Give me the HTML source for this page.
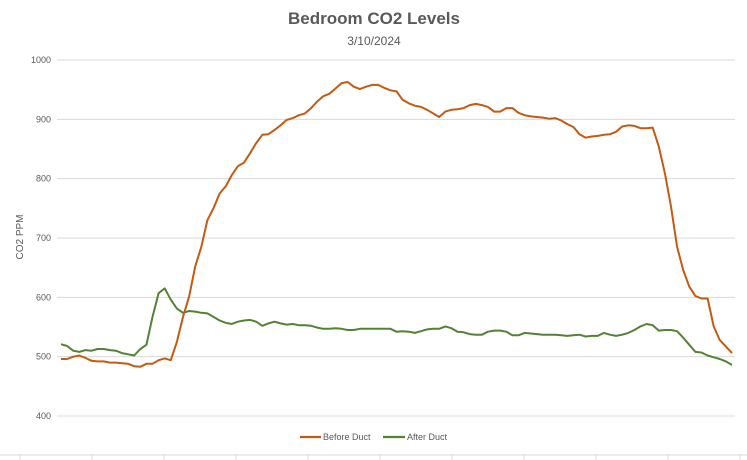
<!DOCTYPE html>
<html><head><meta charset="utf-8"><style>
body{margin:0;background:#fff;font-family:"Liberation Sans",sans-serif}
svg{display:block}
</style></head><body>
<svg id="chart" width="747" height="460" xmlns="http://www.w3.org/2000/svg">
<rect width="747" height="460" fill="#fff"/>
<text x="374" y="24" text-anchor="middle" font-size="17" font-weight="bold" fill="#595959">Bedroom CO2 Levels</text>
<text x="374" y="45" text-anchor="middle" font-size="12" fill="#595959">3/10/2024</text>
<text transform="translate(23,237) rotate(-90)" text-anchor="middle" font-size="10" fill="#595959">CO2 PPM</text>
<g id="grid"></g><g id="series"></g>
<line x1="0" y1="455" x2="747" y2="455" stroke="#d9d9d9"/>
<g id="xticks"></g>
<g>
<line x1="300" y1="437" x2="321" y2="437" stroke="#c55a11" stroke-width="2.2"/>
<text x="323" y="440" font-size="9" fill="#595959">Before Duct</text>
<line x1="383" y1="437" x2="405" y2="437" stroke="#548235" stroke-width="2.2"/>
<text x="407" y="440" font-size="9" fill="#595959">After Duct</text>
</g>
</svg>
<script>
const yTicks=[400,500,600,700,800,900,1000];
const beforeDuct=[496,496,500,502,498,493,492,492,490,490,489,488,484,483,488,488,494,497,494,525,567,601,652,685,730,750,775,787,806,821,827,843,860,874,875,882,890,899,902,907,910,919,930,939,943,952,961,963,955,951,955,
958,958,953,949,947,933,927,923,921,916,910,904,913,916,917,919,924,926,924,921,913,913,919,919,911,907,905,904,903,901,902,898,892,887,875,869,871,872,874,875,879,888,890,889,885,885,886,854,809,753,685,646,618,602,598,598,551,528,517,506];
const afterDuct=[521,518,510,508,511,510,513,513,511,510,506,504,502,513,520,567,607,615,596,581,574,577,576,574,573,567,561,557,555,559,561,562,559,552,556,559,556,554,555,553,553,552,549,547,547,548,547,545,545,547,547,
547,547,547,547,542,543,542,540,543,546,547,547,551,548,542,541,538,537,537,542,544,544,542,536,536,540,539,538,537,537,537,536,535,536,537,534,535,535,540,537,535,537,540,545,551,555,553,544,545,545,543,532,520,508,507,502,499,496,492,486];
const NS="http://www.w3.org/2000/svg";
const X0=61,X1=732,YT=60,YB=416,VMIN=400,VMAX=1000;
const xs=i=>X0+i*(X1-X0)/(beforeDuct.length-1);
const ys=v=>YB-(v-VMIN)*(YB-YT)/(VMAX-VMIN);
const grid=document.getElementById('grid');
yTicks.forEach(t=>{
 const l=document.createElementNS(NS,'line');
 
 
 l.setAttribute('x1',57);l.setAttribute('x2',735);l.setAttribute('y1',ys(t));l.setAttribute('y2',ys(t));
 l.setAttribute('stroke','#d9d9d9');grid.appendChild(l);
 const tx=document.createElementNS(NS,'text');
 
 
 tx.setAttribute('x',51);tx.setAttribute('y',ys(t)+3);tx.setAttribute('text-anchor','end');
 tx.setAttribute('font-size','9');tx.setAttribute('fill','#595959');tx.textContent=t;grid.appendChild(tx);
});
const xt=document.getElementById('xticks');
for(let x=20;x<747;x+=72){
 const l=document.createElementNS(NS,'line');
 
 
 l.setAttribute('x1',x);l.setAttribute('x2',x);l.setAttribute('y1',455);l.setAttribute('y2',460);
 l.setAttribute('stroke','#d9d9d9');xt.appendChild(l);
}
const ser=document.getElementById('series');
function draw(arr,color,name){
 const p=document.createElementNS(NS,'polyline');
 
 
 p.setAttribute('points',arr.map((v,i)=>xs(i).toFixed(1)+','+ys(v).toFixed(1)).join(' '));
 p.setAttribute('fill','none');p.setAttribute('stroke',color);p.setAttribute('stroke-width','2');
 p.setAttribute('stroke-linejoin','round');ser.appendChild(p);
}
draw(afterDuct,'#548235','after-duct-line');
draw(beforeDuct,'#c55a11','before-duct-line');
</script>
</body></html>
